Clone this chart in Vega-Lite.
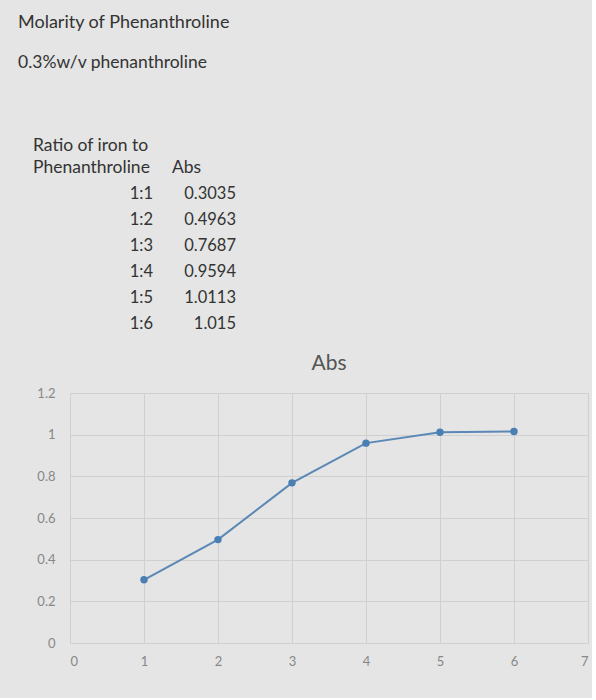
{
  "$schema": "https://vega.github.io/schema/vega-lite/v6.json",
  "autosize": {"type": "pad"},
  "padding": {"left": 18, "top": 13, "right": 4, "bottom": 30},
  "background": "#e4e5e4",
  "bounds": "flush",
  "spacing": 69,
  "config": {"view": {"stroke": null}, "font": "Lato"},
  "datasets": {
    "abs": [
      {"ratio": "1:1", "n": 1, "abs": 0.3035},
      {"ratio": "1:2", "n": 2, "abs": 0.4963},
      {"ratio": "1:3", "n": 3, "abs": 0.7687},
      {"ratio": "1:4", "n": 4, "abs": 0.9594},
      {"ratio": "1:5", "n": 5, "abs": 1.0113},
      {"ratio": "1:6", "n": 6, "abs": 1.015}
    ],
    "headers": [
      {"col": "A", "line": "h1", "label": "Ratio of iron to"},
      {"col": "A", "line": "h2", "label": "Phenanthroline"},
      {"col": "B", "line": "h2", "label": "Abs"}
    ]
  },
  "vconcat": [
    {
      "width": 166,
      "height": 182,
      "title": {
        "text": "Molarity of Phenanthroline",
        "subtitle": "0.3%w/v phenanthroline",
        "anchor": "start",
        "frame": "group",
        "dx": -52,
        "offset": 66,
        "font": "Lato",
        "fontSize": 18,
        "fontWeight": "normal",
        "color": "#333333",
        "subtitleFont": "Lato",
        "subtitleFontSize": 17.5,
        "subtitleColor": "#333333",
        "subtitlePadding": 22
      },
      "layer": [
        {
          "data": {"name": "headers"},
          "transform": [{"filter": "datum.line === 'h1'"}],
          "mark": {"type": "text", "align": "left", "baseline": "middle", "dx": -37, "dy": 4, "fontSize": 17.5, "color": "#333333"},
          "encoding": {
            "x": {"field": "col", "type": "nominal", "bandPosition": 0, "scale": {"type": "band", "domain": ["A", "B"], "paddingInner": 0, "paddingOuter": 0}, "axis": null},
            "y": {"field": "line", "type": "nominal", "scale": {"type": "point", "domain": ["h1", "h2", "1:1", "1:2", "1:3", "1:4", "1:5", "1:6"], "padding": 0}, "axis": null},
            "text": {"field": "label", "type": "nominal"}
          }
        },
        {
          "data": {"name": "headers"},
          "transform": [{"filter": "datum.line === 'h2' && datum.col === 'A'"}],
          "mark": {"type": "text", "align": "left", "baseline": "middle", "dx": -37, "fontSize": 17.5, "color": "#333333"},
          "encoding": {
            "x": {"field": "col", "type": "nominal", "bandPosition": 0},
            "y": {"field": "line", "type": "nominal"},
            "text": {"field": "label", "type": "nominal"}
          }
        },
        {
          "data": {"name": "headers"},
          "transform": [{"filter": "datum.col === 'B'"}],
          "mark": {"type": "text", "align": "left", "baseline": "middle", "dx": 19, "fontSize": 17.5, "color": "#333333"},
          "encoding": {
            "x": {"field": "col", "type": "nominal", "bandPosition": 0},
            "y": {"field": "line", "type": "nominal"},
            "text": {"field": "label", "type": "nominal"}
          }
        },
        {
          "data": {"name": "abs"},
          "mark": {"type": "text", "align": "right", "baseline": "middle", "fontSize": 16.5, "color": "#333333"},
          "encoding": {
            "x": {"datum": "A", "type": "nominal", "bandPosition": 1},
            "y": {"field": "ratio", "type": "nominal"},
            "text": {"field": "ratio", "type": "nominal"}
          }
        },
        {
          "data": {"name": "abs"},
          "mark": {"type": "text", "align": "right", "baseline": "middle", "fontSize": 16.5, "color": "#333333"},
          "encoding": {
            "x": {"datum": "B", "type": "nominal", "bandPosition": 1},
            "y": {"field": "ratio", "type": "nominal"},
            "text": {"field": "abs", "type": "nominal"}
          }
        }
      ]
    },
    {
      "width": 518,
      "height": 250,
      "data": {"name": "abs"},
      "title": {"text": "Abs", "anchor": "middle", "frame": "group", "font": "Lato", "fontSize": 21, "fontWeight": "normal", "color": "#555555", "offset": 13},
      "encoding": {
        "x": {
          "field": "n", "type": "quantitative",
          "scale": {"domain": [0, 7], "nice": false},
          "axis": {"values": [0, 1, 2, 3, 4, 5, 6, 7], "title": null, "grid": true, "gridColor": "#cfd0cf", "domain": false, "ticks": false, "labelColor": "#888888", "labelFontSize": 13, "labelPadding": 12, "labelFont": "Lato"}
        },
        "y": {
          "field": "abs", "type": "quantitative",
          "scale": {"domain": [0, 1.2], "nice": false},
          "axis": {"values": [0, 0.2, 0.4, 0.6, 0.8, 1, 1.2], "format": "~g", "title": null, "grid": true, "gridColor": "#cfd0cf", "domain": false, "ticks": false, "labelColor": "#888888", "labelFontSize": 13, "labelPadding": 15, "labelFont": "Lato"}
        }
      },
      "layer": [
        {"mark": {"type": "line", "color": "#5b88b6", "strokeWidth": 2}},
        {"mark": {"type": "point", "filled": true, "color": "#4a7fb3", "size": 55, "opacity": 1}}
      ]
    }
  ]
}
